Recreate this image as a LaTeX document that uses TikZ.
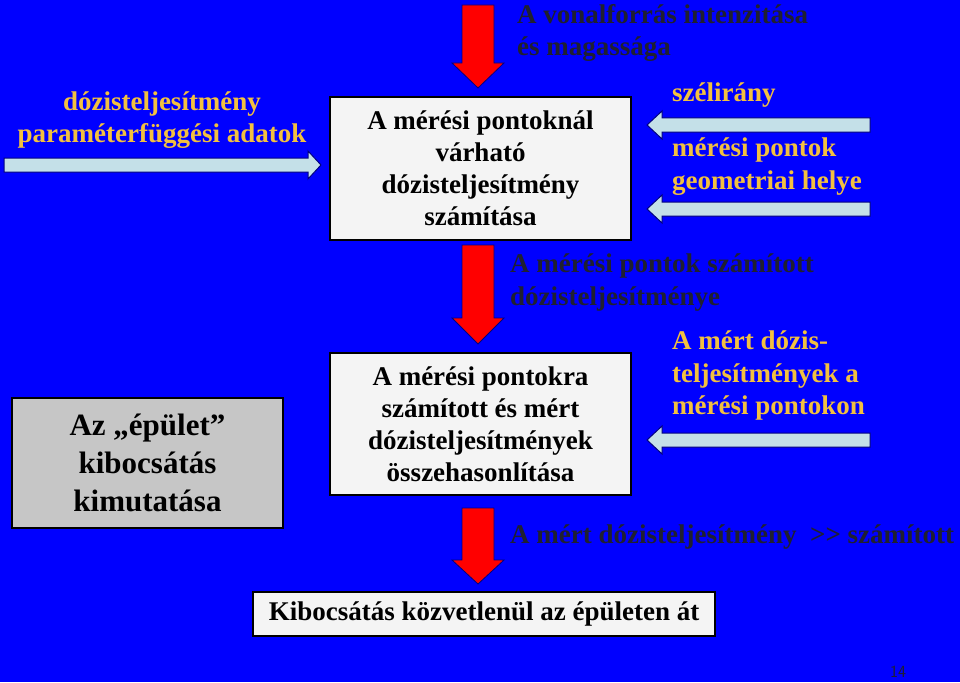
\documentclass[tikz,border=0pt]{standalone}
\usepackage{fontspec}
\setmainfont{Liberation Serif}
\begin{document}
\begin{tikzpicture}[x=1pt,y=-1pt,
  ylw/.style={text=ylwc,font=\bfseries\fontsize{27}{32.5}\selectfont,align=left},
  drk/.style={text=drkc,font=\bfseries\fontsize{27}{32.5}\selectfont,align=left},
  bx/.style={draw=black,line width=1.2pt,fill=boxc,align=center,font=\bfseries\fontsize{27}{32}\selectfont},
  larrow/.style={fill=lbc,draw=navy,line width=1pt},
  rarrow/.style={fill=red,draw=navy,line width=0.8pt}]
\definecolor{ylwc}{HTML}{F2C040}
\definecolor{drkc}{HTML}{202030}
\definecolor{boxc}{HTML}{F4F4F4}
\definecolor{lbc}{HTML}{C4E0E8}
\definecolor{navy}{HTML}{000080}
\fill[blue] (0,0) rectangle (960,682);
\useasboundingbox (0,0) rectangle (960,682);
% left texts
\node[ylw,align=center] (lt) at (162,120) {dózisteljesítmény\\paraméterfüggési adatok};
\draw[larrow] (4,158) -- (308,158) -- (308,151) -- (321,165) -- (308,179) -- (308,172) -- (4,172) -- cycle;
% box1
\node[bx,minimum width=301pt,minimum height=143pt] (b1) at (480.5,168.5) {A mérési pontoknál\\várható\\dózisteljesítmény\\számítása};
% box2
\node[bx,minimum width=301pt,minimum height=142pt] (b2) at (480.5,424) {A mérési pontokra\\számított és mért\\dózisteljesítmények\\összehasonlítása};
% left box
\node[bx,fill=gray!45,minimum width=271pt,minimum height=130pt,font=\bfseries\fontsize{31}{38}\selectfont] (lb) at (147.5,463) {Az „épület”\\kibocsátás\\kimutatása};
% bottom box
\node[bx,minimum width=462pt,minimum height=44pt] (bb) at (484,614) {Kibocsátás közvetlenül az épületen át};
% red arrows
\draw[rarrow] (462,5) -- (494,5) -- (494,63) -- (504,63) -- (478,88) -- (452,63) -- (462,63) -- cycle;
\draw[rarrow] (462,245) -- (494,245) -- (494,318) -- (504,318) -- (478,344) -- (452,318) -- (462,318) -- cycle;
\draw[rarrow] (462,508) -- (494,508) -- (494,560) -- (504,560) -- (478,584) -- (452,560) -- (462,560) -- cycle;
% dark texts
\node[drk,anchor=north west,inner sep=0pt] (t1) at (517,4) {A vonalforrás intenzitása\\és magassága};
\node[drk,anchor=north west,inner sep=0pt] (t2) at (510,254) {A mérési pontok számított\\dózisteljesítménye};
\node[drk,anchor=north west,inner sep=0pt] (t3) at (510,525) {A mért dózisteljesítmény\ \ {>}{>} számított};
% right yellow texts and arrows
\node[ylw,anchor=north west,inner sep=0pt] (y1) at (672,83) {szélirány};
\draw[larrow] (870,118) -- (662,118) -- (662,111) -- (647,125) -- (662,139) -- (662,132) -- (870,132) -- cycle;
\node[ylw,anchor=north west,inner sep=0pt] (y2) at (672,138) {mérési pontok\\geometriai helye};
\draw[larrow] (870,202) -- (662,202) -- (662,195) -- (647,209) -- (662,223) -- (662,216) -- (870,216) -- cycle;
\node[ylw,anchor=north west,inner sep=0pt] (y3) at (672,331) {A mért dózis-\\teljesítmények a\\mérési pontokon};
\draw[larrow] (870,433) -- (662,433) -- (662,426) -- (647,440) -- (662,454) -- (662,447) -- (870,447) -- cycle;
\node[font=\sffamily\fontsize{17}{18}\selectfont,text=drkc] (pg) at (898,672) {14};
\end{tikzpicture}
\end{document}
